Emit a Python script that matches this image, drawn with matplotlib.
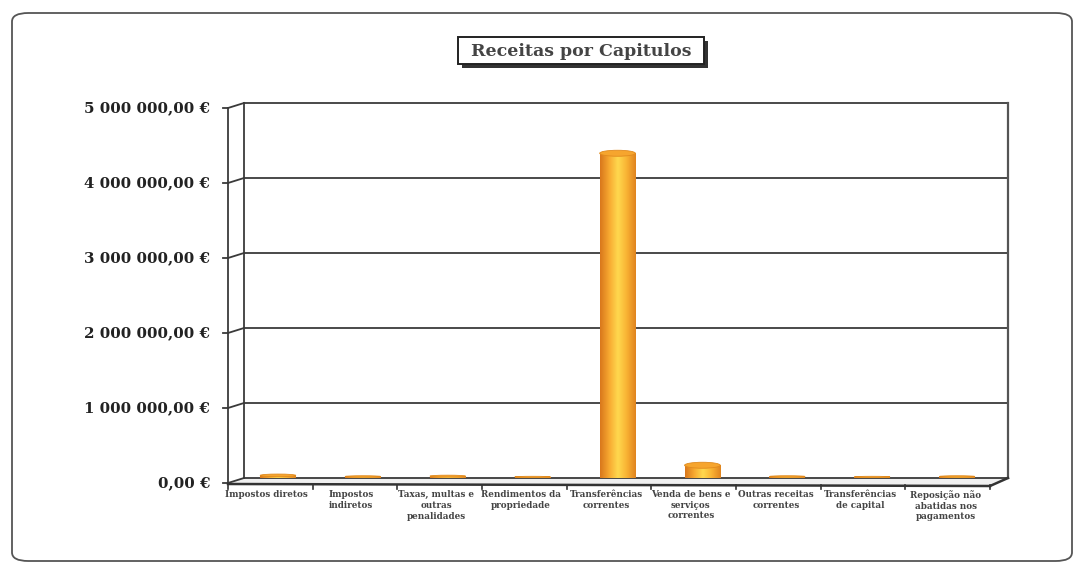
import numpy as np
import matplotlib
matplotlib.use("Agg")
import matplotlib.pyplot as plt
import matplotlib.transforms as mtransforms
from matplotlib.patches import FancyBboxPatch, Ellipse, Rectangle
from matplotlib.colors import LinearSegmentedColormap

# ── data ──────────────────────────────────────────────────────────────
categories = [
    "Impostos diretos",
    "Impostos\nindiretos",
    "Taxas, multas e\noutras\npenalidades",
    "Rendimentos da\npropriedade",
    "Transferências\ncorrentes",
    "Venda de bens e\nserviços\ncorrentes",
    "Outras receitas\ncorrentes",
    "Transferências\nde capital",
    "Reposição não\nabatidas nos\npagamentos",
]
values = [35000, 20000, 25000, 15000, 4330000, 170000, 20000, 15000, 20000]
yticks = [0, 1000000, 2000000, 3000000, 4000000, 5000000]
ytick_labels = ["0,00 €", "1 000 000,00 €", "2 000 000,00 €",
                "3 000 000,00 €", "4 000 000,00 €", "5 000 000,00 €"]
title = "Receitas por Capitulos"

W, H = 1083, 573
fig = plt.figure(figsize=(W / 100, H / 100), dpi=100)
fig.patch.set_facecolor("white")

# outer rounded frame
frame = FancyBboxPatch((12 / W, 12 / H), 1060 / W, 548 / H,
                       boxstyle="round,pad=0,rounding_size=0.015",
                       transform=fig.transFigure, fill=False,
                       edgecolor="#555555", linewidth=1.3)
fig.patches.append(frame)

# back wall of the pseudo-3D plot
left, right, top, bottom = 244, 1008, 103, 478
ax = fig.add_axes([left / W, 1 - bottom / H, (right - left) / W, (bottom - top) / H])
ax.set_xlim(-0.5, len(categories) - 0.5)
ax.set_ylim(0, 5000000)
for s in ax.spines.values():
    s.set_visible(False)
ax.set_xticks([])
ax.set_yticks([])


def dshifted(dx, dy):
    return ax.transData + mtransforms.ScaledTranslation(dx / 100, dy / 100, fig.dpi_scale_trans)


line_kw = dict(color="#3a3a3a", linewidth=1.3, clip_on=False)

# gridlines on back wall + side wall, labels on front plane
for v, lab in zip(yticks, ytick_labels):
    f = v / 5000000
    ax.plot([0, 1], [f, f], transform=ax.transAxes, **line_kw)
    ax.plot([-16 / 764, 0], [f - 5 / 375, f], transform=ax.transAxes, **line_kw)
    ax.plot([-21 / 764, -16 / 764], [f - 5 / 375, f - 5 / 375], transform=ax.transAxes, **line_kw)
    ax.text(-34 / 764, f - 5 / 375, lab, transform=ax.transAxes, ha="right", va="center",
            fontsize=10.8, fontweight="bold", family="DejaVu Serif", color="#222222")

# walls
ax.plot([0, 0], [0, 1], transform=ax.transAxes, **line_kw)
ax.plot([1, 1], [0, 1], transform=ax.transAxes, color="#555555", linewidth=1.6, clip_on=False)
ax.plot([-16 / 764, -16 / 764], [-5 / 375, 1 - 5 / 375], transform=ax.transAxes, **line_kw)
# floor
ax.fill([-16 / 764, 1 - 18 / 764, 1, 0], [-6 / 375, -8 / 375, 0, 0],
        transform=ax.transAxes, color="#f0f0f0", clip_on=False, zorder=0)
ax.plot([-16 / 764, 1 - 18 / 764], [-6 / 375, -8 / 375], transform=ax.transAxes,
        color="#333333", linewidth=1.8, clip_on=False)
ax.plot([1 - 18 / 764, 1], [-8 / 375, 0], transform=ax.transAxes,
        color="#333333", linewidth=1.8, clip_on=False)
for i in range(len(categories) + 1):
    xf = i / len(categories)
    xs = xf - 16 / 764 * (1 - xf) - 18 / 764 * xf
    ax.plot([xs, xs], [-7 / 375, -11 / 375],
            transform=ax.transAxes, color="#333333", linewidth=1.2, clip_on=False)

# cylinder bars with horizontal gradient
cmap = LinearSegmentedColormap.from_list(
    "cyl", ["#d9781c", "#f7a830", "#ffd94f", "#f9b233", "#e0841f"])
grad = np.linspace(0, 1, 64).reshape(1, -1)
bw = 0.42
cap = 6 / 375 * 5000000
for i, v in enumerate(values):
    x0 = i - 0.1 - bw / 2
    bars = ax.bar(i - 0.1, v, width=bw, color="none", edgecolor="none", zorder=3)
    im = ax.imshow(grad, cmap=cmap, aspect="auto", extent=[x0, x0 + bw, 0, v],
                   zorder=3, interpolation="bicubic")
    im.set_clip_path(bars.patches[0])
    h = min(cap, v)
    ax.add_patch(Ellipse((i - 0.1, v), bw, h, facecolor="#f6a52e",
                         edgecolor="#e08a1e", linewidth=0.6, zorder=4))

ax.set_xlim(-0.5, len(categories) - 0.5)
ax.set_ylim(0, 5000000)

# category labels under the floor
for i, lab in enumerate(categories):
    ax.text(i, 0, lab, transform=dshifted(-20, -12), ha="center", va="top",
            fontsize=6.3, fontweight="bold", family="DejaVu Serif", color="#444444",
            linespacing=1.25, clip_on=False)

# title box with drop shadow
fig.patches.append(Rectangle((462 / W, 1 - 68 / H), 246 / W, 27 / H,
                             transform=fig.transFigure, facecolor="#333333",
                             edgecolor="none", zorder=1))
fig.patches.append(Rectangle((458 / W, 1 - 64 / H), 246 / W, 27 / H,
                             transform=fig.transFigure, facecolor="white",
                             edgecolor="#222222", linewidth=1.4, zorder=2))
fig.text(581 / W, 1 - 51 / H, title, ha="center", va="center", zorder=3,
         fontsize=12.5, fontweight="bold", family="DejaVu Serif", color="#444444")

fig.savefig("out.png", dpi=100, facecolor="white")
